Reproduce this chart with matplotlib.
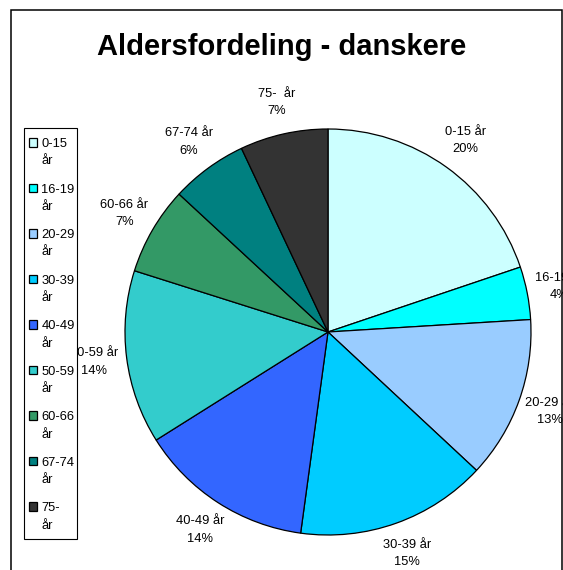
import numpy as np
import matplotlib.pyplot as plt
from matplotlib.patches import Rectangle
from matplotlib.legend_handler import HandlerPatch

plt.rcParams.update({
    "font.family": ["Liberation Sans", "DejaVu Sans"],
    "font.size": 9,
})

# Age groups and shares (percent)
groups = ["0-15", "16-19", "20-29", "30-39", "40-49", "50-59", "60-66", "67-74", "75-"]
shares = [19.8, 4.2, 12.9, 15.2, 13.9, 13.8, 7.0, 6.1, 7.0]
colors = ["#CCFFFF", "#00FFFF", "#99CCFF", "#00CCFF", "#3366FF",
          "#33CCCC", "#339966", "#008080", "#333333"]

W, H = 563, 570
FS = 9.3
LS = 1.6
fig = plt.figure(figsize=(W / 100, H / 100), dpi=100)
ax = fig.add_axes([0, 0, 1, 1])

cx, cy, r = 328, H - 332, 203
wedges, _ = ax.pie(shares, colors=colors, startangle=90, counterclock=False,
                   center=(cx, cy), radius=r,
                   wedgeprops=dict(edgecolor="black", linewidth=0.9))

# Labels outside the pie, centred on each wedge's mid angle
total = sum(shares)
cum = 0.0
for g, v in zip(groups, shares):
    mid = (cum + v / 2) / total * 360.0
    cum += v
    ang = np.deg2rad(90 - mid)
    d = r * 1.16
    name = "75-  år" if g == "75-" else f"{g} år"
    ax.text(cx + d * np.cos(ang), cy + d * np.sin(ang),
            f"{name}\n{round(v)}%", ha="center", va="center",
            fontsize=FS, linespacing=LS, zorder=3)

ax.set_xlim(0, W)
ax.set_ylim(0, H)
ax.set_aspect("equal")
ax.axis("off")

# chart area border
ax.add_patch(Rectangle((11, -5), 551, H - 10 + 5, fill=False,
                       edgecolor="black", linewidth=1.1, zorder=5))

ax.text(W / 2, H - 47, "Aldersfordeling - danskere", ha="center", va="center",
        fontsize=21, fontweight="bold")

# legend box (drawn separately so the padding can differ per side)
ax.add_patch(Rectangle((24, H - 539), 53, 411, facecolor="white",
                       edgecolor="black", linewidth=0.8, zorder=5.5))


# put the key square beside the first line of a two-line label
def top_square(legend, orig_handle, xdescent, ydescent, width, height, fontsize):
    off = 0.5 * LS * fontsize
    return Rectangle((-xdescent, -ydescent + off), width, height)


leg = ax.legend(wedges, [f"{g}\når" for g in groups],
                loc="upper left", bbox_to_anchor=(29 / W, 1 - 138 / H),
                bbox_transform=fig.transFigure, borderaxespad=0, borderpad=0,
                frameon=False, fontsize=FS, labelspacing=1.25,
                handlelength=0.65, handleheight=0.65, handletextpad=0.3,
                handler_map={type(wedges[0]): HandlerPatch(patch_func=top_square)})
for t in leg.get_texts():
    t.set_linespacing(LS)
leg.set_zorder(6)

fig.savefig("out.png", dpi=100)
